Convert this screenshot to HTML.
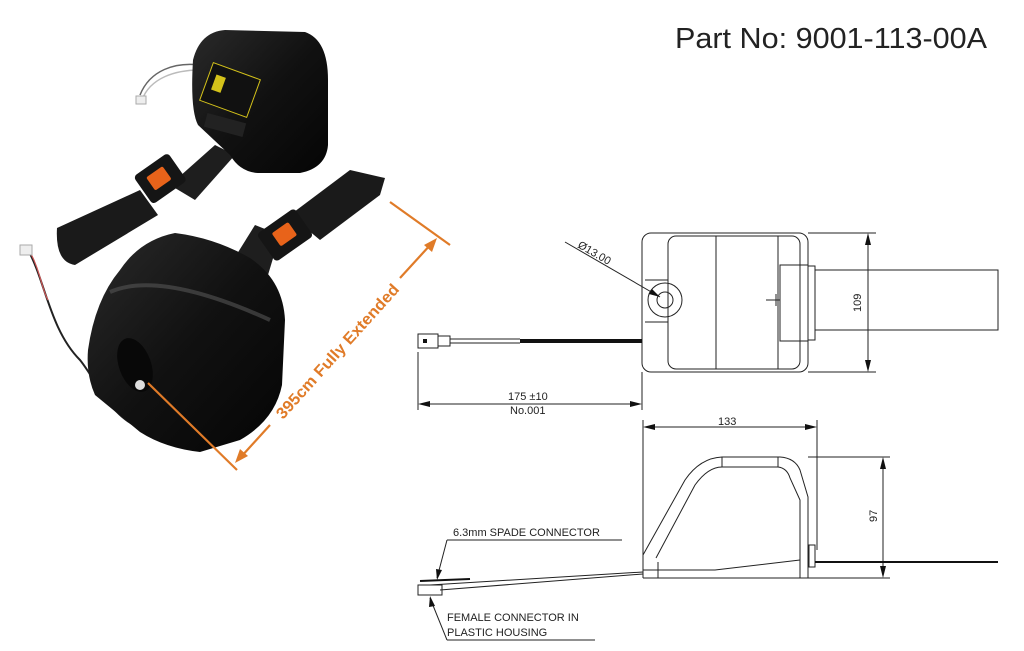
<!DOCTYPE html>
<html><head><meta charset="utf-8"><style>
html,body{margin:0;padding:0;background:#fff;width:1024px;height:651px;overflow:hidden}
svg{display:block}
text{font-family:"Liberation Sans",Arial,sans-serif}
</style></head><body>
<svg width="1024" height="651" viewBox="0 0 1024 651" xmlns="http://www.w3.org/2000/svg">
<defs>
<linearGradient id="g1" x1="0" y1="0" x2="1" y2="1"><stop offset="0" stop-color="#2a2a2a"/><stop offset="0.5" stop-color="#111"/><stop offset="1" stop-color="#050505"/></linearGradient>
</defs>
<!-- Part No -->
<text x="675" y="48" font-size="29" fill="#222" textLength="312" lengthAdjust="spacingAndGlyphs">Part No: 9001-113-00A</text>

<!-- ===== PHOTO ===== -->
<!-- top wires -->
<path d="M200,65 C175,62 150,70 140,95" stroke="#666" stroke-width="1.5" fill="none"/>
<path d="M200,70 C175,70 150,78 142,100" stroke="#bbb" stroke-width="1.5" fill="none"/>
<rect x="136" y="96" width="10" height="8" fill="#eee" stroke="#aaa"/>
<!-- top strap left -->
<path d="M57,228 L140,190 L158,215 L75,265 Q55,262 57,228 Z" fill="#1a1a1a"/>
<path d="M170,185 L215,145 L235,155 L195,200 Z" fill="#1e1e1e"/>
<!-- top buckle -->
<g transform="rotate(-35 160 180)"><rect x="140" y="162" width="42" height="34" rx="4" fill="#151515"/><rect x="150" y="170" width="20" height="16" rx="2" fill="#e8631a"/></g>
<!-- top box -->
<path d="M193,60 Q200,32 225,30 L305,32 Q328,40 328,80 L328,145 Q326,168 300,173 L258,173 Q240,172 230,155 L198,125 Q190,110 193,60 Z" fill="url(#g1)"/>
<rect x="205" y="70" width="50" height="40" fill="#111" stroke="#d4c21a" stroke-width="1" transform="rotate(20 230 90)"/>
<rect x="212" y="80" width="10" height="16" fill="#d4c21a" transform="rotate(20 230 90)"/>
<rect x="205" y="118" width="40" height="14" fill="#222" transform="rotate(15 225 125)"/>
<!-- bottom strap -->
<path d="M232,262 L255,225 L280,235 L265,285 Z" fill="#1e1e1e"/>
<path d="M290,215 L350,170 L385,178 L380,195 L320,240 Z" fill="#1a1a1a"/>
<g transform="rotate(-35 285 235)"><rect x="262" y="218" width="46" height="34" rx="4" fill="#151515"/><rect x="275" y="226" width="20" height="16" rx="2" fill="#e8631a"/></g>
<!-- bottom wires -->
<path d="M28,250 C45,280 50,330 80,360 C100,385 110,420 150,432" stroke="#222" stroke-width="2" fill="none"/>
<path d="M30,252 C40,270 42,290 48,300" stroke="#c55" stroke-width="1.2" fill="none"/>
<rect x="20" y="245" width="12" height="10" fill="#eee" stroke="#aaa"/>
<!-- bottom box -->
<path d="M88,350 Q95,300 120,270 Q140,240 175,233 Q215,238 250,258 Q283,280 285,320 L282,385 Q275,420 240,440 L200,452 Q165,448 140,432 L95,395 Q86,375 88,350 Z" fill="url(#g1)"/>
<path d="M110,292 Q160,270 270,320" stroke="#555" stroke-width="4" fill="none" opacity="0.6"/>
<ellipse cx="135" cy="365" rx="16" ry="28" fill="#080808" transform="rotate(-20 135 365)"/>
<circle cx="140" cy="385" r="5" fill="#ddd"/>

<!-- orange dimension -->
<g stroke="#e07b28" stroke-width="2.2" fill="#e07b28">
<line x1="390" y1="202" x2="450" y2="245"/>
<line x1="148" y1="383" x2="237" y2="470"/>
<line x1="400" y1="278" x2="432" y2="243"/>
<line x1="270" y1="425" x2="240" y2="458"/>
<polygon points="437,238 424,245 432,252" stroke="none"/>
<polygon points="235,463 240,449 248,456" stroke="none"/>
</g>
<text x="0" y="0" font-size="16" font-weight="bold" fill="#e07b28" transform="translate(283,420) rotate(-48)" textLength="175" lengthAdjust="spacingAndGlyphs">395cm Fully Extended</text>

<!-- ===== DRAWING TOP VIEW ===== -->
<g stroke="#222" stroke-width="1" fill="none">
<rect x="642" y="233" width="166" height="139" rx="9"/>
<rect x="668" y="236" width="132" height="133" rx="8"/>
<line x1="716" y1="236" x2="716" y2="369"/>
<line x1="778" y1="236" x2="778" y2="369"/>
<rect x="780" y="265" width="28" height="76"/>
<rect x="808" y="266" width="7" height="74"/>
<rect x="815" y="270" width="183" height="60"/>
<line x1="766" y1="300" x2="780" y2="300"/>
<line x1="776" y1="294" x2="776" y2="306"/>
<path d="M645,280 L668,280 M645,322 L668,322"/>
<circle cx="665" cy="300" r="17"/>
<circle cx="665" cy="300" r="8"/>
<line x1="565" y1="242" x2="660" y2="297"/>
<!-- 109 dim -->
<line x1="808" y1="233" x2="876" y2="233"/>
<line x1="808" y1="372" x2="876" y2="372"/>
<line x1="868" y1="236" x2="868" y2="369"/>
<!-- connector and wire -->
<rect x="418" y="334" width="20" height="14"/>
<rect x="438" y="336" width="12" height="10"/>
<line x1="450" y1="339" x2="520" y2="339"/>
<line x1="450" y1="343" x2="520" y2="343"/>
<!-- 175 dim -->
<line x1="418" y1="352" x2="418" y2="410"/>
<line x1="642" y1="372" x2="642" y2="410"/>
<line x1="420" y1="404" x2="640" y2="404"/>
</g>
<rect x="520" y="339" width="122" height="4" fill="#111"/>
<rect x="423" y="339" width="4" height="4" fill="#111"/>
<g fill="#111">
<polygon points="868,233 865,245 871,245"/><polygon points="868,372 865,360 871,360"/>
<polygon points="418,404 430,401 430,407"/><polygon points="642,404 630,401 630,407"/>
<polygon points="660,297 652,289 649,294"/>
</g>
<text x="0" y="0" font-size="11" fill="#222" transform="translate(861,312) rotate(-90)">109</text>
<text x="0" y="0" font-size="11" fill="#222" transform="translate(577,247) rotate(30)">Ø13.00</text>
<text x="508" y="400" font-size="11" fill="#222">175 ±10</text>
<text x="510" y="414" font-size="11" fill="#222">No.001</text>

<!-- ===== SIDE VIEW ===== -->
<g stroke="#222" stroke-width="1" fill="none">
<line x1="643" y1="420" x2="643" y2="578"/>
<line x1="817" y1="420" x2="817" y2="550"/>
<line x1="645" y1="427" x2="815" y2="427"/>
<path d="M643,555 L685,480 Q700,458 722,457 L780,457 Q795,458 800,470 L808,497 L808,578"/>
<path d="M656,558 L695,485 Q708,467 722,467 L778,467 Q787,468 790,478 L800,500 L800,578"/>
<line x1="722" y1="457" x2="722" y2="467"/>
<line x1="778" y1="457" x2="778" y2="467"/>
<line x1="643" y1="578" x2="890" y2="578"/>
<line x1="658" y1="562" x2="658" y2="578"/>
<line x1="808" y1="457" x2="890" y2="457"/>
<line x1="883" y1="460" x2="883" y2="575"/>
<rect x="809" y="545" width="6" height="22"/>
<path d="M643,570 L715,570 L800,560"/>
<path d="M643,572 L430,585"/>
<path d="M643,574 L440,590"/>
<rect x="418" y="585" width="24" height="10"/>
<line x1="447" y1="540" x2="622" y2="540"/>
<line x1="447" y1="540" x2="437" y2="578"/>
<line x1="447" y1="640" x2="595" y2="640"/>
<line x1="447" y1="640" x2="430" y2="598"/>
</g>
<line x1="815" y1="562" x2="998" y2="562" stroke="#111" stroke-width="2"/>
<line x1="420" y1="581" x2="470" y2="579" stroke="#111" stroke-width="2"/>
<g fill="#111">
<polygon points="643,427 655,424 655,430"/><polygon points="817,427 805,424 805,430"/>
<polygon points="883,457 880,469 886,469"/><polygon points="883,578 880,566 886,566"/>
<polygon points="437,580 436,569 442,570"/><polygon points="430,596 429,607 435,606"/>
</g>
<text x="718" y="425" font-size="11" fill="#222">133</text>
<text x="0" y="0" font-size="11" fill="#222" transform="translate(877,522) rotate(-90)">97</text>
<text x="453" y="536" font-size="11" fill="#222">6.3mm SPADE CONNECTOR</text>
<text x="447" y="621" font-size="11" fill="#222">FEMALE CONNECTOR IN</text>
<text x="447" y="636" font-size="11" fill="#222">PLASTIC HOUSING</text>
</svg>
</body></html>
